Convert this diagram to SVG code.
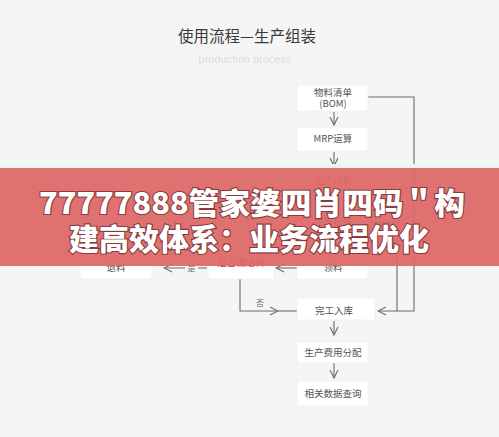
<svg xmlns="http://www.w3.org/2000/svg" width="499" height="437" viewBox="0 0 499 437">
<style>
.bg{fill:#f5f5f5}
.box{fill:#ffffff;stroke:#ececec;stroke-width:0.6}
.t{font-family:"Noto Sans CJK SC","Liberation Sans",sans-serif;font-size:9.5px;fill:#555;text-anchor:middle}
.lbl{font-family:"Noto Sans CJK SC","Liberation Sans",sans-serif;font-size:8px;fill:#666;text-anchor:middle}
.c{fill:none;stroke:#6a6a6a;stroke-width:1.1}
.ban{font-family:"Noto Sans CJK SC","Liberation Sans",sans-serif;font-weight:900;font-size:30px;fill:#ffffff;stroke:#8a3a3a;stroke-width:2.2;paint-order:stroke;text-anchor:middle}
</style>
<defs>
<marker id="arr" viewBox="0 0 10 10" refX="9" refY="5" markerWidth="10" markerHeight="10" markerUnits="userSpaceOnUse" orient="auto">
<path d="M1,1 L9,5 L1,9" fill="none" stroke="#6a6a6a" stroke-width="1.1"/>
</marker>
</defs>
<rect class="bg" x="0" y="0" width="499" height="437"/>
<text x="247" y="42" font-family="Noto Sans CJK SC, Liberation Sans, sans-serif" font-size="15.5" fill="#3a3a3a" text-anchor="middle">使用流程—生产组装</text>
<text x="245" y="63" font-family="Liberation Sans, sans-serif" font-size="11" fill="#dcdcdc" text-anchor="middle">production process</text>

<g id="connectors">
<path class="c" d="M334,112 V125" marker-end="url(#arr)"/>
<path class="c" d="M334,152 V166" marker-end="url(#arr)"/>
<path class="c" d="M334,194 V208" marker-end="url(#arr)"/>
<path class="c" d="M334,236 V252" marker-end="url(#arr)"/>
<path class="c" d="M297,268 H276" marker-end="url(#arr)"/>
<path class="c" d="M207,268 H164" marker-end="url(#arr)"/>
<rect x="185" y="262" width="13" height="11" fill="#f5f5f5"/>
<text class="lbl" x="191.5" y="271">是</text>
<path class="c" d="M240,279 V311 H278" marker-end="url(#arr)"/>
<path class="c" d="M278,311 H297"/>
<text class="lbl" x="260" y="306">否</text>
<path class="c" d="M368,97 H414 V311 H378" marker-end="url(#arr)"/>
<path class="c" d="M370,222 H397 V311"/>
<path class="c" d="M334,321 V335" marker-end="url(#arr)"/>
<path class="c" d="M334,363 V378" marker-end="url(#arr)"/>
</g>

<g id="n-bom"><rect class="box" x="297" y="85" width="71" height="26"/><text class="t" x="333" y="96">物料清单</text><text class="t" x="333" y="107">(BOM)</text></g>
<g id="n-mrp"><rect class="box" x="297" y="127" width="71" height="24"/><text class="t" x="333" y="142">MRP运算</text></g>
<g id="n-plan"><rect class="box" x="297" y="169" width="71" height="24"/><text class="t" x="333" y="184" fill="#a03030" style="fill:#a03030">生产计划</text></g>
<g id="n-task"><rect class="box" x="297" y="210" width="71" height="24"/><text class="t" x="333" y="225">生产任务</text></g>
<g id="n-pick"><rect class="box" x="297" y="256" width="71" height="23"/><text class="t" x="333" y="271">领料</text></g>
<g id="n-ret"><rect class="box" x="208" y="255" width="66" height="24"/><text class="t" x="241" y="266" style="fill:#c03a3a">是否需退料</text></g>
<g id="n-back"><rect class="box" x="80" y="256" width="72" height="23"/><text class="t" x="116" y="271">退料</text></g>
<g id="n-done"><rect class="box" x="297" y="298" width="78" height="22"/><text class="t" x="334" y="314">完工入库</text></g>
<g id="n-cost"><rect class="box" x="297" y="342" width="71" height="21"/><text class="t" x="333" y="356">生产费用分配</text></g>
<g id="n-query"><rect class="box" x="297" y="381" width="71" height="25"/><text class="t" x="333" y="397">相关数据查询</text></g>

<g id="banner">
<rect x="0" y="164" width="499" height="4" fill="#eaf6f6"/>
<rect x="0" y="168" width="499" height="98" fill="#dd6868" opacity="0.94"/>
<text class="ban" x="252" y="214" textLength="426" lengthAdjust="spacingAndGlyphs">77777888管家婆四肖四码＂构</text>
<text class="ban" x="249" y="250">建高效体系：业务流程优化</text>
</g>
</svg>
